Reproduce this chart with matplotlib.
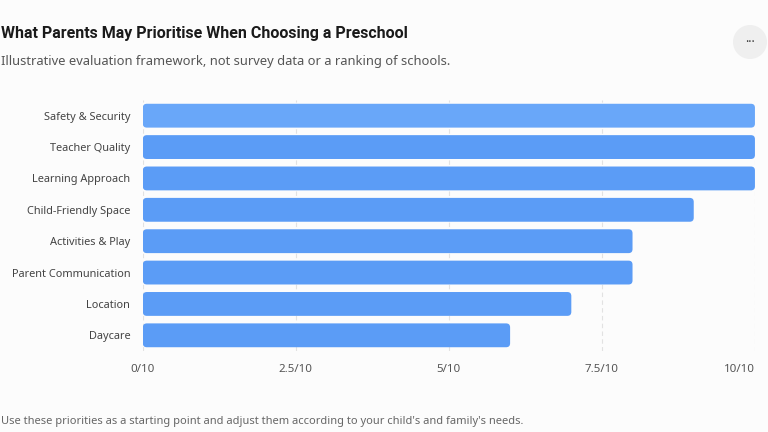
import matplotlib.pyplot as plt
from matplotlib.patches import FancyBboxPatch, Circle

plt.rcParams['font.family'] = ['Noto Sans', 'DejaVu Sans']

categories = ['Safety & Security', 'Teacher Quality', 'Learning Approach',
              'Child-Friendly Space', 'Activities & Play', 'Parent Communication',
              'Location', 'Daycare']
scores = [10, 10, 10, 9, 8, 8, 7, 6]
ticks = [0, 2.5, 5, 7.5, 10]
tick_labels = ['0/10', '2.5/10', '5/10', '7.5/10', '10/10']

bg = '#fcfcfc'
fig = plt.figure(figsize=(7.68, 4.32), dpi=100, facecolor=bg)
ax = fig.add_axes([0.186, 0.1875, 0.797, 0.581], facecolor=bg)

ax.set_xlim(0, 10)
ax.set_ylim(len(categories) - 0.5, -0.5)

# rounded bars
h = 0.76
for i, v in enumerate(scores):
    col = '#69a7f9' if i == 0 else '#5b9cf6'
    p = FancyBboxPatch((0, i - h / 2), v, h,
                       boxstyle='round,pad=0,rounding_size=0.065',
                       mutation_aspect=1.95, fc=col, ec='none', zorder=3)
    ax.add_patch(p)

for t in ticks:
    ax.axvline(t, color='#e2e2e2', lw=0.8, ls=(0, (4, 3)), zorder=1)

ax.set_yticks(range(len(categories)))
ax.set_yticklabels(categories, fontsize=7.9, color='#444444')
ax.set_xticks(ticks)
ax.set_xticklabels(tick_labels, fontsize=8.3, color='#555555')
ax.get_xticklabels()[-1].set_ha('right')
ax.get_xticklabels()[-1].set_x(10.03)
ax.tick_params(length=0)
ax.tick_params(axis='y', pad=9)
ax.tick_params(axis='x', pad=9)
for s in ax.spines.values():
    s.set_visible(False)

fig.text(0.001, 0.922, 'What Parents May Prioritise When Choosing a Preschool',
         fontsize=11.5, fontweight='bold', family=['Roboto', 'DejaVu Sans'],
         color='#1a1a1a', va='center')
fig.text(0.001, 0.857, 'Illustrative evaluation framework, not survey data or a ranking of schools.',
         fontsize=9.3, color='#555555', va='center')
fig.text(0.001, 0.025, "Use these priorities as a starting point and adjust them according to your child's and family's needs.",
         fontsize=8.0, color='#666666', va='center')

# menu button
fig.patches.append(Circle((750, 432 - 42), 17, transform=None, fc='#efefef', ec='none'))
fig.text(750 / 768, 1 - 42 / 432, '···', fontsize=9, color='#333333',
         ha='center', va='center')

fig.savefig('out.png', dpi=100, facecolor=bg)
